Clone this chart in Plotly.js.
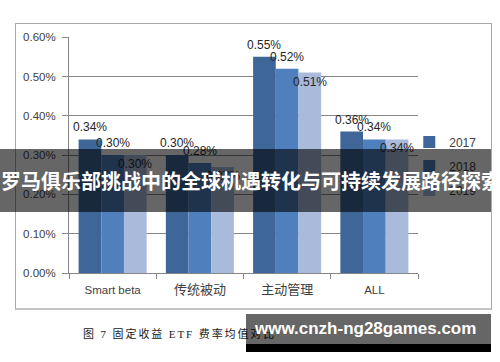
<!DOCTYPE html>
<html>
<head>
<meta charset="utf-8">
<script src="https://cdn.plot.ly/plotly-3.0.1.min.js"></script>
<style>
  html, body { margin:0; padding:0; background:#fff; }
  #wrap { position:relative; width:500px; height:362px; overflow:hidden; background:#fff; }
  #frame { position:absolute; left:15px; top:23px; width:475px; height:284px; border:1px solid #a9a9a9; border-bottom:2px solid #c4c4c4; box-sizing:content-box; pointer-events:none; }
  #chart { position:absolute; left:0; top:0; width:500px; height:362px; }
  #caption { position:absolute; left:83px; top:325px; font-family:"Liberation Serif","Noto Sans CJK SC",serif; font-size:11px; letter-spacing:1.9px; color:#222; white-space:nowrap; }
  #banner { position:absolute; left:0; top:149px; width:491px; height:63px; background:rgba(0,0,0,0.6); }
  #bannerText { position:absolute; left:1px; top:149px; height:63px; line-height:63px; font-family:"Noto Sans CJK SC",sans-serif; font-weight:bold; font-size:20px; color:#fff; white-space:nowrap; }
  #wm { position:absolute; left:246px; top:314px; width:245px; height:30px; background:rgba(0,0,0,0.6); }
  #wmBar { position:absolute; left:246px; top:344px; width:245px; height:8px; background:#000; }
  #wmText { position:absolute; left:255px; top:314px; height:30px; line-height:30px; font-family:"Liberation Sans",Arial,sans-serif; font-weight:bold; font-size:17px; color:#fff; white-space:nowrap; }
</style>
</head>
<body>
<div id="wrap">
  <div id="chart"></div>
  <div id="frame"></div>
  <div id="caption">图 7 固定收益 ETF 费率均值对比</div>
  <div id="banner"></div>
  <div id="bannerText">罗马俱乐部挑战中的全球机遇转化与可持续发展路径探索</div>
  <div id="wm"></div>
  <div id="wmBar"></div>
  <div id="wmText">www.cnzh-ng28games.com</div>
</div>
<script>
// ---- data ----
const categories = ["Smart beta", "传统被动", "主动管理", "ALL"];
const seriesNames = ["2017", "2018", "2019"];
const v2017 = [0.34, 0.30, 0.55, 0.36];
const v2018 = [0.30, 0.28, 0.52, 0.34];
const v2019 = [0.30, 0.27, 0.51, 0.34];
const yTickVals = [0, 0.1, 0.2, 0.3, 0.4, 0.5, 0.6];
const yTickText = ["0.00%", "0.10%", "0.20%", "0.30%", "0.40%", "0.50%", "0.60%"];
const xTickText = ["Smart beta", "<span style='font-size:13px'>传统被动</span>", "<span style='font-size:13px'>主动管理</span>", "ALL"];

const seriesValues = [v2017, v2018, v2019];
const colors = ["#3e6699", "#4f80bd", "#a9badb"];

const W = 500, H = 362;
const margin = {l:69, r:82, t:37, b:89};
const bargap = 0.22;
const plotW = W - margin.l - margin.r;
const barPx = plotW / categories.length * (1 - bargap) / seriesValues.length;

const traces = seriesValues.map((vals, i) => ({
  type: "bar",
  name: seriesNames[i],
  x: categories,
  y: vals,
  marker: {color: colors[i], line: {width: 0}},
  legendgroup: "g" + i,
  hoverinfo: "skip"
}));

const annotations = [];
seriesValues.forEach((vals, i) => {
  vals.forEach((v, j) => {
    annotations.push({
      x: categories[j], y: v, xref: "x", yref: "y",
      text: v.toFixed(2) + "%",
      showarrow: false,
      xshift: (i - 1) * barPx,
      yshift: i < 2 ? 12 : -9,
      font: {family: "Liberation Sans, Arial, sans-serif", size: 12, color: "#262626"}
    });
  });
});

const layout = {
  width: W, height: H,
  margin: margin,
  paper_bgcolor: "rgba(0,0,0,0)",
  plot_bgcolor: "rgba(0,0,0,0)",
  barmode: "group",
  bargap: bargap,
  bargroupgap: 0,
  showlegend: true,
  legend: {
    x: 0.975, y: 0.617, xanchor: "left", yanchor: "top",
    traceorder: "grouped", tracegroupgap: 5,
    font: {family: "Liberation Sans, Arial, sans-serif", size: 12, color: "#404040"},
    bgcolor: "rgba(0,0,0,0)"
  },
  xaxis: {
    type: "category",
    tickmode: "array", tickvals: categories, ticktext: xTickText,
    tickson: "boundaries",
    ticks: "outside", ticklen: 5, tickcolor: "#868686",
    showline: true, linecolor: "#868686", linewidth: 1,
    showgrid: false,
    ticklabelstandoff: 6,
    tickfont: {family: "Liberation Sans, Noto Sans CJK SC, sans-serif", size: 11.5, color: "#404040"}
  },
  yaxis: {
    range: [0, 0.6005],
    tickmode: "array", tickvals: yTickVals, ticktext: yTickText,
    ticks: "outside", ticklen: 6, tickcolor: "#868686",
    showline: true, linecolor: "#868686", linewidth: 1,
    showgrid: true, gridcolor: "#868686", gridwidth: 1,
    zeroline: false,
    ticklabelstandoff: 4,
    tickfont: {family: "Liberation Sans, Arial, sans-serif", size: 11.5, color: "#404040"}
  },
  annotations: annotations
};

Plotly.newPlot("chart", traces, layout, {displayModeBar: false, staticPlot: true});
</script>
</body>
</html>
